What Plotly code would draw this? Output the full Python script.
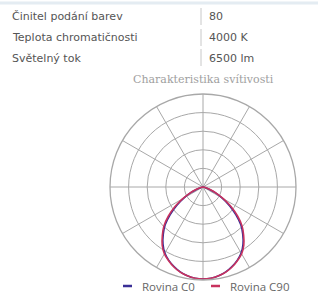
import plotly.graph_objects as go

# --- data ---
row_labels = ["Činitel podání barev", "Teplota chromatičnosti", "Světelný tok"]
row_values = ["80", "4000 K", "6500 lm"]

chart_title = "Charakteristika svítivosti"
angles = [0, 5, 10, 15, 20, 25, 30, 35, 40, 45, 50, 55, 60, 65, 70, 75, 80, 90, 120, 150, 180]
c0_intensity = [0.99, 0.985, 0.97, 0.945, 0.91, 0.87, 0.82, 0.75, 0.665, 0.575, 0.46, 0.345, 0.235, 0.145, 0.07, 0.02, 0.0, 0.0, 0.0, 0.0, 0.0]
c90_intensity = [0.99, 0.985, 0.97, 0.948, 0.915, 0.875, 0.83, 0.765, 0.68, 0.595, 0.485, 0.37, 0.255, 0.16, 0.08, 0.025, 0.0, 0.0, 0.0, 0.0, 0.0]
series_names = ["Rovina C0", "Rovina C90"]
series_colors = ["#3a2f96", "#c8325e"]


def mirror(th, r):
    t = [-a for a in reversed(th)] + th[1:]
    rr = list(reversed(r)) + r[1:]
    return t, rr


fig = go.Figure()
for name, vals, col in zip(series_names, [c0_intensity, c90_intensity], series_colors):
    t, rr = mirror(angles, vals)
    fig.add_trace(go.Scatterpolar(theta=t, r=rr, mode="lines", name=name,
                                  line=dict(color=col, width=1.6, shape="spline"), showlegend=False))

grid = "#a8a8a8"
fig.update_layout(
    width=318, height=295,
    margin=dict(l=0, r=0, t=0, b=0),
    paper_bgcolor="white",
    plot_bgcolor="white",
    polar=dict(
        domain=dict(x=[110 / 318, 296 / 318], y=[1 - 280 / 295, 1 - 94 / 295]),
        bgcolor="white",
        radialaxis=dict(range=[0, 1], dtick=0.2, showticklabels=False, ticks="",
                        showline=False, gridcolor=grid, gridwidth=1.3),
        angularaxis=dict(rotation=-90, direction="counterclockwise", dtick=30,
                         showticklabels=False, ticks="", showline=True,
                         linecolor=grid, linewidth=1.3, gridcolor=grid, gridwidth=1.3),
    ),
)

anns = []
row_y = [17, 38, 58]
for lab, val, y in zip(row_labels, row_values, row_y):
    anns.append(dict(x=10, y=y, text=lab, showarrow=False,
                     xanchor="left", yanchor="middle",
                     font=dict(family="DejaVu Sans", size=11, color="#555555")))
    anns.append(dict(x=207, y=y, text=val, showarrow=False,
                     xanchor="left", yanchor="middle",
                     font=dict(family="DejaVu Sans", size=11, color="#555555")))
# title
anns.append(dict(x=203, y=80, text=chart_title, showarrow=False, xanchor="center", yanchor="middle",
                 font=dict(family="DejaVu Serif", size=11, color="#a0a0a0")))
# legend labels
leg = [(140, series_names[0]), (228, series_names[1])]
for tx, name in leg:
    anns.append(dict(x=tx, y=286, text=name, showarrow=False, xanchor="left", yanchor="middle",
                     font=dict(family="Open Sans", size=11.5, color="#666666")))

# convert pixel coords to paper coords
for a in anns:
    a["xref"] = "paper"
    a["yref"] = "paper"
    a["x"] = a["x"] / 318
    a["y"] = 1 - a["y"] / 295
fig.update_layout(annotations=anns)

shapes = []
# separator segments
for y in row_y:
    shapes.append(dict(type="line", xref="paper", yref="paper",
                       x0=201 / 318, x1=201 / 318, y0=1 - (y - 9) / 295, y1=1 - (y + 8) / 295,
                       line=dict(color="#c8c8c8", width=1)))
shapes.append(dict(type="line", xref="paper", yref="paper", x0=0, x1=1,
                   y0=1 - 3 / 295, y1=1 - 3 / 295, line=dict(color="#e4ecf2", width=3)))
# legend swatches
for (x0, x1), col in zip([(123, 132), (211, 220)], series_colors):
    shapes.append(dict(type="line", xref="paper", yref="paper",
                       x0=x0 / 318, x1=x1 / 318, y0=1 - 286 / 295, y1=1 - 286 / 295,
                       line=dict(color=col, width=2.5)))
fig.update_layout(shapes=shapes)

fig.write_html("out.html", config={"displayModeBar": False},
               post_script="document.body.style.margin='0';document.body.style.overflow='hidden';")
